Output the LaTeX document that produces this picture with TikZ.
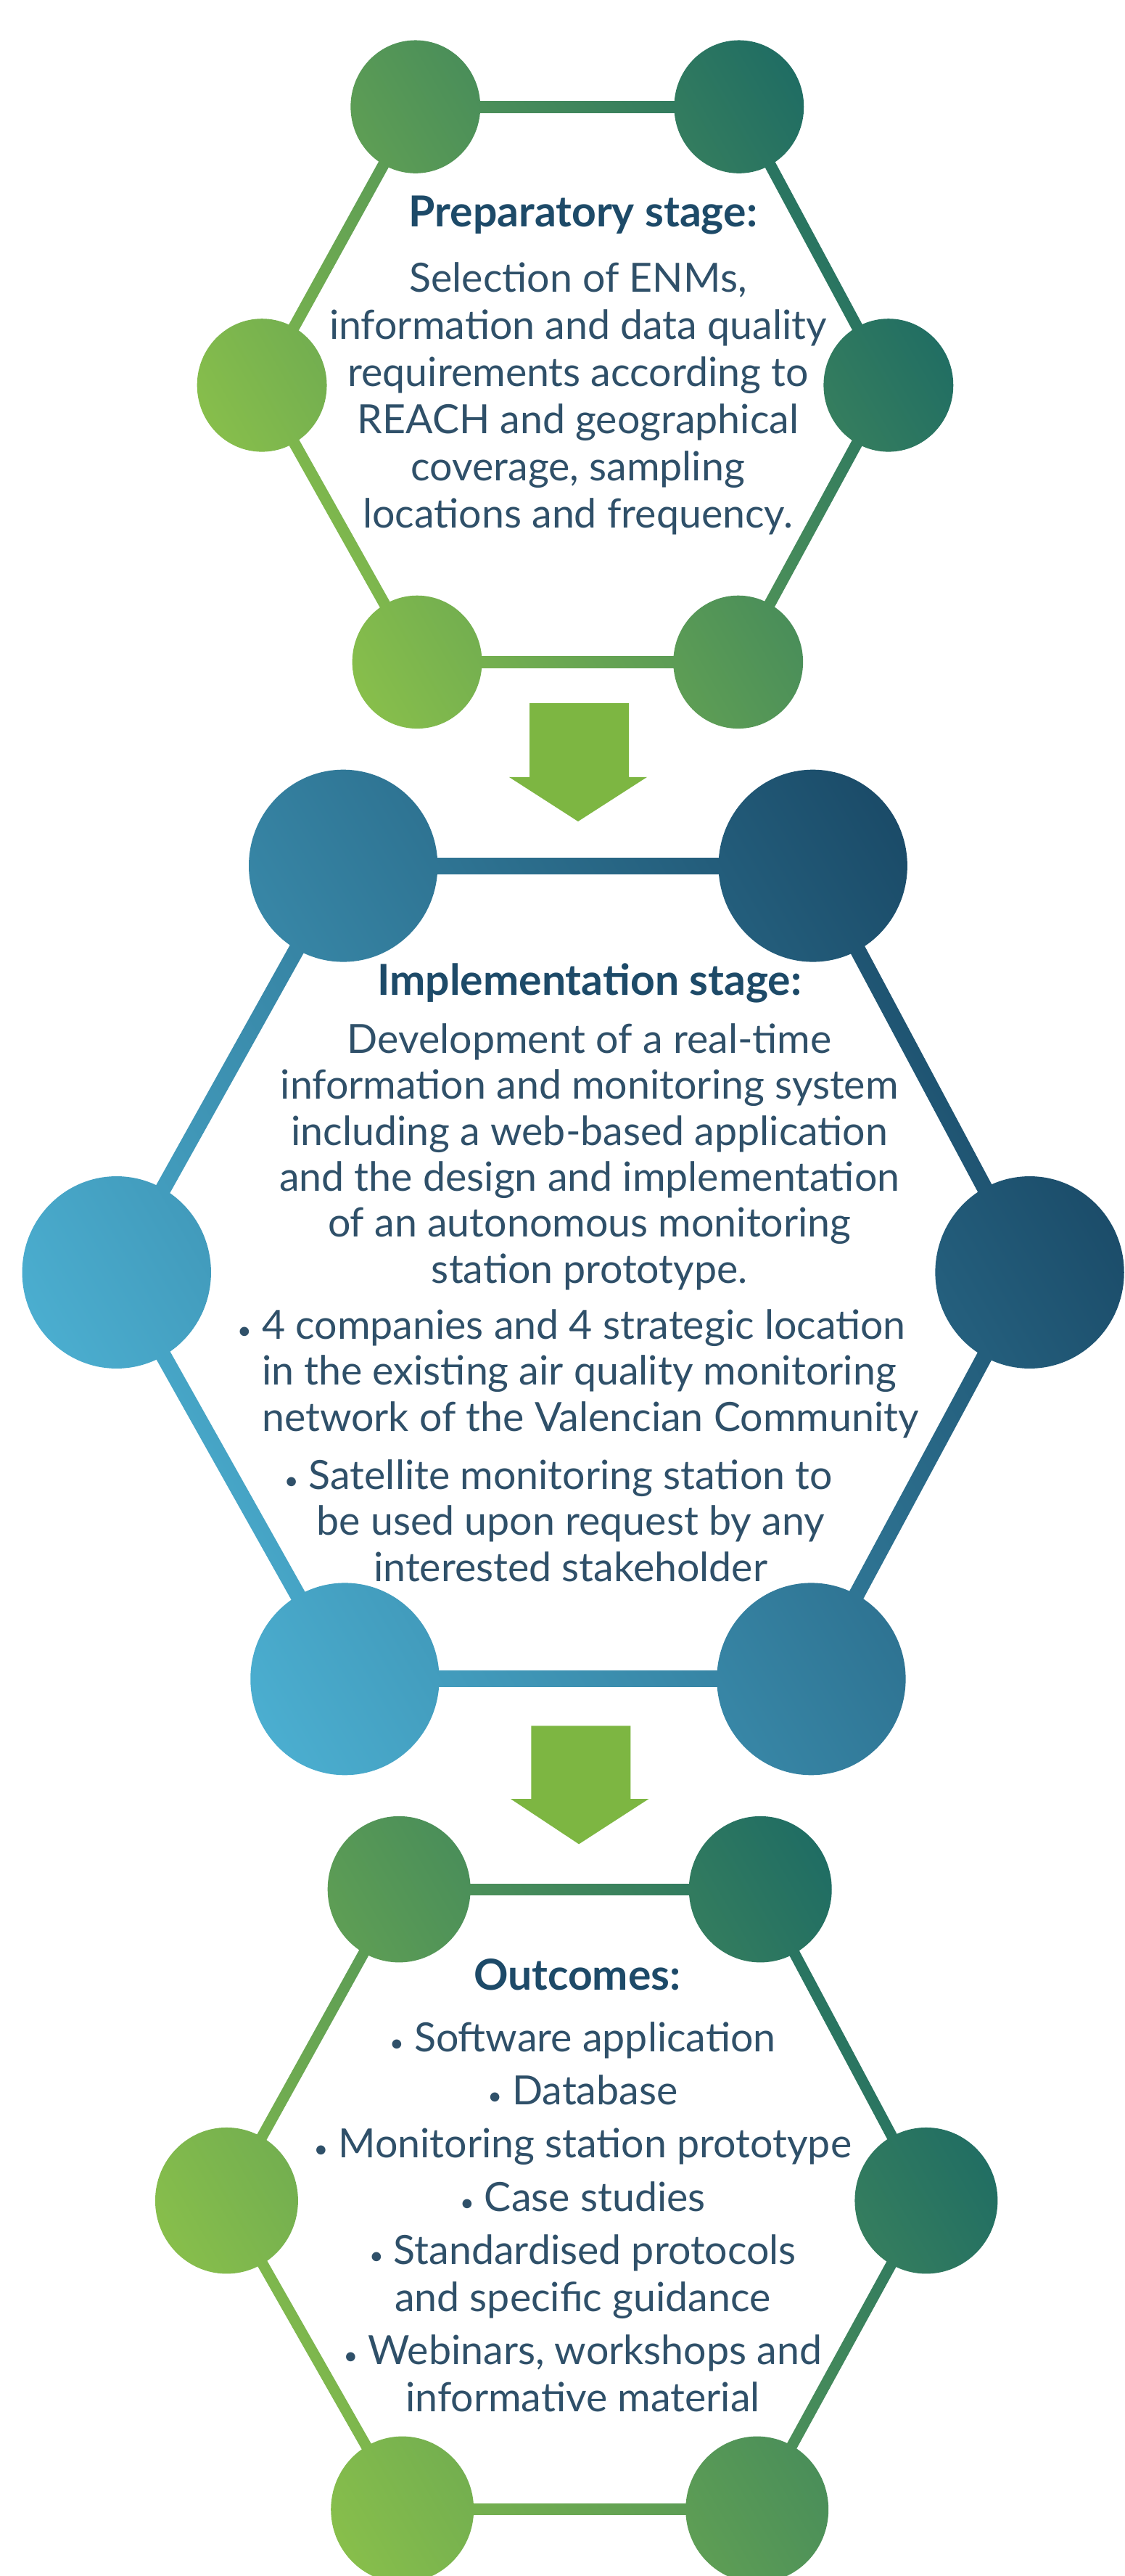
\documentclass[tikz,border=0pt]{standalone}
\usepackage{fontspec}
\setmainfont{Lato}
\usetikzlibrary{calc,positioning}

\definecolor{leafLight}{HTML}{8CC24A}
\definecolor{leafDark}{HTML}{1C6A64}
\definecolor{skyLight}{HTML}{4DB2D4}
\definecolor{skyDark}{HTML}{194865}
\definecolor{inkText}{HTML}{2F5069}
\definecolor{inkTitle}{HTML}{1D4A68}
\definecolor{arrowGreen}{HTML}{7DB642}

\tikzset{
  stagetitle/.style={font=\fontsize{15.6}{18}\selectfont\bfseries, text=inkTitle, inner sep=0pt},
  stagebody/.style={align=center, text=inkText, inner sep=0pt},
  leafshade/.style={shading=axis, top color=leafDark, bottom color=leafLight, shading angle=-60},
  skyshade/.style={shading=axis, top color=skyDark, bottom color=skyLight, shading angle=-60},
}
\newcommand{\bul}{{\fontsize{9}{9}\selectfont\textbullet}\ }

% ring of six dots: prefix, half line width, x radius, y radius, shade style, box corners
\newcommand{\stagering}[7]{%
  \foreach \i/\j in {1/2,2/3,3/4,4/5,5/6,6/1}{
    \begin{scope}
      \clip ($(#1\i)!#2!90:(#1\j)$) -- ($(#1\j)!#2!-90:(#1\i)$)
         -- ($(#1\j)!#2!90:(#1\i)$) -- ($(#1\i)!#2!-90:(#1\j)$) -- cycle;
      \shade[#5] #6 rectangle #7;
    \end{scope}
  }
  \foreach \i in {1,...,6}{
    \begin{scope}
      \clip (#1\i) ellipse [x radius=#3, y radius=#4];
      \shade[#5] #6 rectangle #7;
    \end{scope}
  }
}

\begin{document}
\begin{tikzpicture}[x=0.6pt,y=-0.6pt]
  \useasboundingbox (0,0) rectangle (685,1568);

  % preparatory stage
  \coordinate (prep1) at (253,65);
  \coordinate (prep2) at (450,65);
  \coordinate (prep3) at (541,234.5);
  \coordinate (prep4) at (449.5,403);
  \coordinate (prep5) at (254,403);
  \coordinate (prep6) at (159.5,234.5);
  \stagering{prep}{2.1pt}{39.5}{40.5}{leafshade}{(115,20)}{(585,448)}
  \node[stagetitle] (prepTitle) at (355,131) {Preparatory stage:};
  \node[stagebody, font=\fontsize{14.7}{17.2}\selectfont, below=9.8pt of prepTitle, xshift=-1.8pt] (prepBody)
    {Selection of ENMs,\\ information and data quality\\ requirements according to\\
     REACH and geographical\\ coverage, sampling\\ locations and frequency.};

  % arrow between stages
  \coordinate (arrowA) at (352.5,428);
  \fill[arrowGreen] (arrowA) ++(-30,0) -- ++(60.5,0) -- ++(0,45) -- (394,473)
    -- (352,500) -- (310,473) -- (322.5,473) -- cycle;

  % implementation stage
  \coordinate (impl1) at (209,527);
  \coordinate (impl2) at (495,527);
  \coordinate (impl3) at (627,774.5);
  \coordinate (impl4) at (494,1022);
  \coordinate (impl5) at (210,1022);
  \coordinate (impl6) at (71,774.5);
  \stagering{impl}{2.9pt}{57.5}{58.5}{skyshade}{(10,465)}{(690,1085)}
  \node[stagetitle] (implTitle) at (359,598.5) {Implementation stage:};
  \node[stagebody, font=\fontsize{14.7}{16.8}\selectfont, below=7.1pt of implTitle] (implBody)
    {Development of a real-time\\ information and monitoring system\\
     including a web-based application\\ and the design and implementation\\
     of an autonomous monitoring\\ station prototype.\\[3.6pt]
     \makebox[239.4pt][l]{\llap{\bul}4 companies and 4 strategic location}\\
     \makebox[239.4pt][l]{in the existing air quality monitoring}\\
     \makebox[239.4pt][l]{network of the Valencian Community}\\[4.5pt]
     \mbox{\llap{\bul}Satellite monitoring station to\hspace{13.8pt}}\\
     \mbox{be used upon request by any\hspace{13.8pt}}\\
     \mbox{interested stakeholder\hspace{13.8pt}}};

  \coordinate (arrowB) at (353.5,1050.5);
  \fill[arrowGreen] (arrowB) ++(-30,0) -- ++(60.5,0) -- ++(0,44.5) -- (395,1095)
    -- (352.5,1122.5) -- (311,1095) -- (323.5,1095) -- cycle;

  % outcomes
  \coordinate (out1) at (243,1150);
  \coordinate (out2) at (463,1150);
  \coordinate (out3) at (564,1339.5);
  \coordinate (out4) at (461,1527.5);
  \coordinate (out5) at (245,1527.5);
  \coordinate (out6) at (138,1339.5);
  \stagering{out}{2pt}{43.5}{44.5}{leafshade}{(90,1100)}{(612,1575)}
  \node[stagetitle] (outTitle) at (351.5,1202) {Outcomes:};
  \node[stagebody, font=\fontsize{14.7}{17.3}\selectfont, below=11.1pt of outTitle, xshift=2pt] (outBody)
    {\bul Software application\\[2.1pt] \bul Database\\[2.1pt] \bul Monitoring station prototype\\[2.1pt]
     \bul Case studies\\[2.1pt] \bul Standardised protocols\\ and specific guidance\\[2.1pt]
     \bul Webinars, workshops and\\ informative material};
\end{tikzpicture}
\end{document}
